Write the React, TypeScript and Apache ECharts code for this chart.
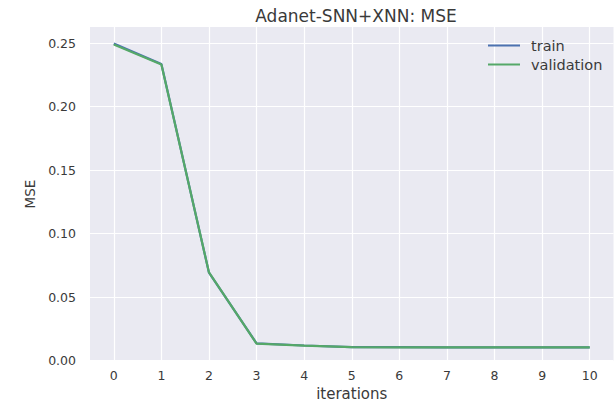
import React, { useEffect, useRef } from "react";
import * as echarts from "echarts";

const iterations = [0, 1, 2, 3, 4, 5, 6, 7, 8, 9, 10];
const trainMSE = [0.2496, 0.2336, 0.0692, 0.0136, 0.0119, 0.0107, 0.0106, 0.0105, 0.0105, 0.0105, 0.0105];
const validationMSE = [0.249, 0.2332, 0.0694, 0.0134, 0.0118, 0.0106, 0.0105, 0.0104, 0.0104, 0.0104, 0.0104];
const yTicks = [0, 0.05, 0.1, 0.15, 0.2, 0.25];

const FONT = "DejaVu Sans";
const TEXT = "#3a3a3a";

export default function App() {
  const ref = useRef<HTMLDivElement>(null);
  useEffect(() => {
    if (!ref.current) return;
    const chart = echarts.init(ref.current, undefined, { renderer: "svg" });
    chart.setOption({
      animation: false,
      backgroundColor: "#ffffff",
      title: {
        text: "Adanet-SNN+XNN: MSE",
        left: 351,
        top: 2,
        textAlign: "center",
        textStyle: { fontFamily: FONT, fontSize: 17, fontWeight: "normal", color: TEXT },
      },
      legend: {
        orient: "vertical",
        left: 483,
        top: 33,
        itemWidth: 32,
        itemHeight: 2,
        itemGap: 4,
        icon: "rect",
        textStyle: {
          fontFamily: FONT,
          fontSize: 14.5,
          lineHeight: 14,
          color: TEXT,
          padding: [0, 0, 0, 6],
        },
        data: ["train", "validation"],
      },
      grid: {
        left: 90,
        right: 0.5,
        top: 27,
        bottom: 41,
        show: true,
        backgroundColor: "#EAEAF2",
        borderWidth: 0,
        outerBoundsMode: "none",
        containLabel: false,
      },
      xAxis: {
        type: "value",
        min: -0.5,
        max: 10.5,
        name: "iterations",
        nameLocation: "middle",
        nameGap: 24.5,
        nameTextStyle: { fontFamily: FONT, fontSize: 15, lineHeight: 15, color: TEXT },
        axisLine: { show: false },
        axisTick: { show: false, customValues: iterations },
        axisLabel: { customValues: iterations, margin: 8, fontFamily: FONT, fontSize: 12.5, color: TEXT },
        splitLine: { show: true, lineStyle: { color: "#ffffff", width: 1.2 } },
      },
      yAxis: {
        type: "value",
        min: -0.0003,
        max: 0.2627,
        name: "MSE",
        nameLocation: "middle",
        nameGap: 51,
        nameTextStyle: { fontFamily: FONT, fontSize: 13.5, color: TEXT },
        axisLine: { show: false },
        axisTick: { show: false, customValues: yTicks },
        axisLabel: {
          customValues: yTicks,
          margin: 14,
          fontFamily: FONT,
          fontSize: 12.5,
          color: TEXT,
          formatter: (v: number) => v.toFixed(2),
        },
        splitLine: { show: true, lineStyle: { color: "#ffffff", width: 1.2 } },
      },
      series: [
        {
          name: "train",
          type: "line",
          data: iterations.map((x, i) => [x, trainMSE[i]]),
          showSymbol: false,
          symbol: "none",
          lineStyle: { color: "#4C72B0", width: 2.2 },
          itemStyle: { color: "#4C72B0" },
        },
        {
          name: "validation",
          type: "line",
          data: iterations.map((x, i) => [x, validationMSE[i]]),
          showSymbol: false,
          symbol: "none",
          lineStyle: { color: "#55A868", width: 2.2 },
          itemStyle: { color: "#55A868" },
        },
      ],
    });
    return () => chart.dispose();
  }, []);
  return (
    <div
      ref={ref}
      style={{ position: "absolute", left: 0, top: 0, width: 614, height: 402 }}
    />
  );
}
